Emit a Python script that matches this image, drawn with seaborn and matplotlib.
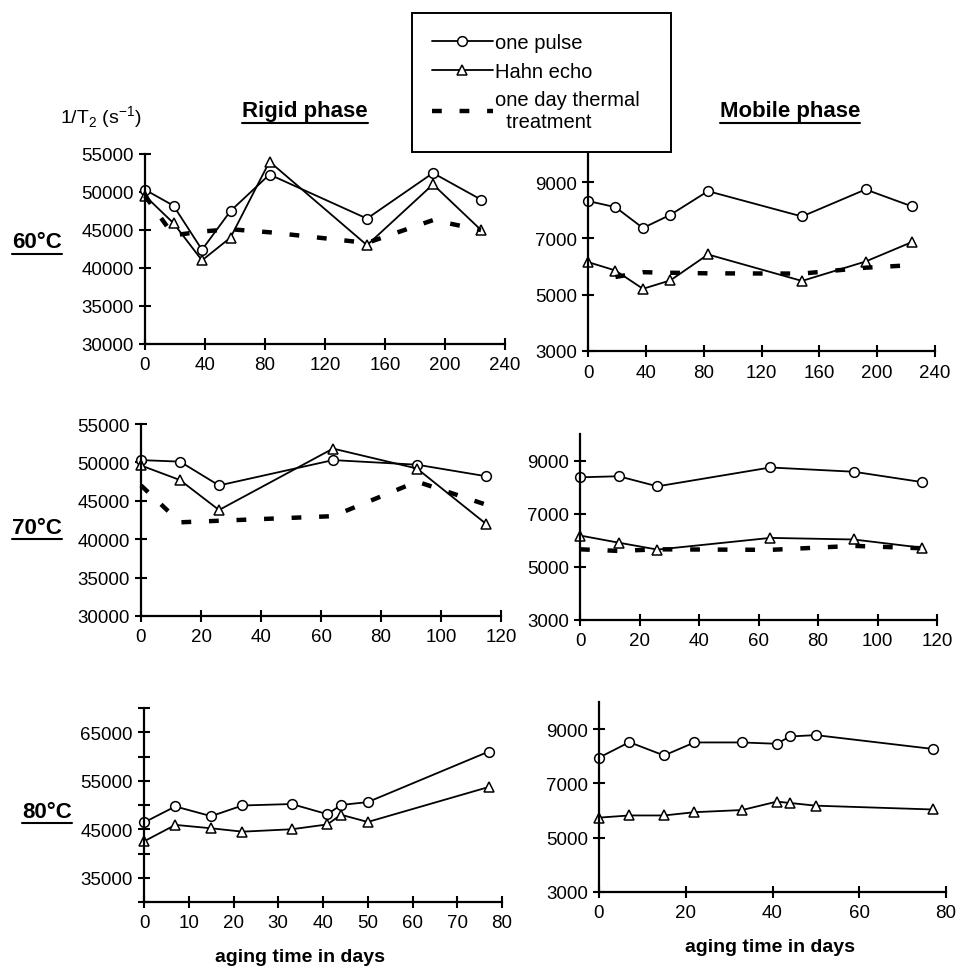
import matplotlib
matplotlib.use("Agg")
import matplotlib.pyplot as plt
from matplotlib.lines import Line2D
import seaborn as sns

# ---------------- data: 1/T2 (s^-1) versus aging time (days) ----------------
days_60 = [0, 19, 38, 57, 83, 148, 192, 224]
rigid_60_pulse = [50300, 48200, 42400, 47500, 52300, 46500, 52500, 49000]
rigid_60_hahn = [49500, 45900, 41000, 44000, 54000, 43000, 51000, 45000]
rigid_60_thermal = [49500, 44300, 44800, 45100, 44700, 43300, 46300, 45000]
mobile_60_pulse = [8330, 8110, 7370, 7840, 8680, 7780, 8740, 8140]
mobile_60_hahn = [6160, 5860, 5210, 5510, 6430, 5490, 6180, 6870]
days_60_thermal_mobile = [19, 38, 57, 83, 148, 192, 224]
mobile_60_thermal = [5630, 5800, 5780, 5760, 5750, 5960, 6050]

days_70 = [0, 13, 26, 64, 92, 115]
rigid_70_pulse = [50300, 50100, 47000, 50300, 49700, 48200]
rigid_70_hahn = [49600, 47700, 43800, 51800, 49200, 42000]
rigid_70_thermal = [47000, 42200, 42400, 43000, 47500, 44500]
mobile_70_pulse = [8370, 8410, 8030, 8740, 8580, 8190]
mobile_70_hahn = [6180, 5910, 5650, 6090, 6030, 5720]
mobile_70_thermal = [5660, 5600, 5660, 5640, 5790, 5700]

days_80 = [0, 7, 15, 22, 33, 41, 44, 50, 77]
rigid_80_pulse = [46400, 49700, 47700, 49900, 50200, 48100, 50000, 50600, 61000]
rigid_80_hahn = [42500, 45900, 45200, 44500, 45000, 46000, 48000, 46500, 53700]
mobile_80_pulse = [7950, 8520, 8030, 8510, 8510, 8460, 8730, 8780, 8270]
mobile_80_hahn = [5740, 5820, 5820, 5940, 6020, 6330, 6280, 6180, 6040]

series_labels = ["one pulse", "Hahn echo", "one day thermal\n  treatment"]
row_labels = ["60°C", "70°C", "80°C"]

# ---------------- style ----------------
sns.set_style("ticks")
plt.rcParams["font.family"] = ["Liberation Sans", "DejaVu Sans"]
plt.rcParams["mathtext.fontset"] = "custom"
plt.rcParams["mathtext.rm"] = "Liberation Sans"
for key in ("text.color", "axes.labelcolor", "xtick.color", "ytick.color",
            "axes.edgecolor"):
    plt.rcParams[key] = "black"

W, H = 956, 978
fig = plt.figure(figsize=(W / 100, H / 100), dpi=100)
fig.patch.set_facecolor("white")


def add_ax(left, top, right, bottom):
    return fig.add_axes([left / W, 1 - bottom / H, (right - left) / W, (bottom - top) / H])


line_kw = dict(color="k", linewidth=1.3, clip_on=False, markersize=7,
               markerfacecolor="white", markeredgecolor="k", markeredgewidth=1.1)
dash_kw = dict(color="k", linewidth=3.2, clip_on=False,
               linestyle=(0, (2.2, 4.0)), dash_capstyle="butt")


def draw(ax, days, pulse, hahn, t_days=None, thermal=None):
    sns.lineplot(x=days, y=pulse, ax=ax, marker="o", label=series_labels[0], **line_kw)
    sns.lineplot(x=days, y=hahn, ax=ax, marker="^", label=series_labels[1], **line_kw)
    if thermal is not None:
        sns.lineplot(x=t_days, y=thermal, ax=ax, label=series_labels[2], **dash_kw)
    if ax.get_legend() is not None:
        ax.get_legend().remove()


def style(ax, xmax, xstep, ymin, ymax, ystep, ylabels):
    ax.set_xlim(0, xmax)
    ax.set_ylim(ymin, ymax)
    ax.set_xticks(list(range(0, xmax + 1, xstep)))
    yt = list(range(ymin, ymax + 1, ystep))
    ax.set_yticks(yt)
    ax.set_yticklabels([str(v) if v in ylabels else "" for v in yt])
    sns.despine(ax=ax)
    for s in ("left", "bottom"):
        ax.spines[s].set_linewidth(1.6)
        ax.spines[s].set_color("black")
    ax.tick_params(direction="inout", length=8, width=1.5, labelsize=13.5,
                   pad=4, colors="black")
    ax.tick_params(axis="x", pad=5)
    ax.set_xlabel("")
    ax.set_ylabel("")
    ax.set_facecolor("white")


rigid_ticks_a = list(range(30000, 55001, 5000))
mobile_ticks = [3000, 5000, 7000, 9000]

# row 1: 60 °C
ax1 = add_ax(145, 155, 505, 345)
draw(ax1, days_60, rigid_60_pulse, rigid_60_hahn, days_60, rigid_60_thermal)
style(ax1, 240, 40, 30000, 55000, 5000, rigid_ticks_a)

ax2 = add_ax(588, 155, 935, 352)
draw(ax2, days_60, mobile_60_pulse, mobile_60_hahn, days_60_thermal_mobile, mobile_60_thermal)
style(ax2, 240, 40, 3000, 10000, 2000, mobile_ticks)
ax2.set_yticks(mobile_ticks)
ax2.set_yticklabels([str(v) for v in mobile_ticks])

# row 2: 70 °C
ax3 = add_ax(141, 425, 501, 617)
draw(ax3, days_70, rigid_70_pulse, rigid_70_hahn, days_70, rigid_70_thermal)
style(ax3, 120, 20, 30000, 55000, 5000, rigid_ticks_a)

ax4 = add_ax(580, 435, 937, 621)
draw(ax4, days_70, mobile_70_pulse, mobile_70_hahn, days_70, mobile_70_thermal)
style(ax4, 120, 20, 3000, 10000, 2000, mobile_ticks)
ax4.set_yticks(mobile_ticks)
ax4.set_yticklabels([str(v) for v in mobile_ticks])

# row 3: 80 °C
ax5 = add_ax(144, 709, 502, 903)
draw(ax5, days_80, rigid_80_pulse, rigid_80_hahn)
style(ax5, 80, 10, 30000, 70000, 5000, [35000, 45000, 55000, 65000])

ax6 = add_ax(599, 703, 946, 893)
draw(ax6, days_80, mobile_80_pulse, mobile_80_hahn)
style(ax6, 80, 20, 3000, 10000, 2000, mobile_ticks)
ax6.set_yticks(mobile_ticks)
ax6.set_yticklabels([str(v) for v in mobile_ticks])

# ---------------- legend ----------------
handles = ax1.get_lines()[:3]
leg = fig.legend(handles, series_labels, loc="upper left",
                 bbox_to_anchor=(412 / W, 1 - 14 / H, 259 / W, 0), mode="expand",
                 frameon=True, fancybox=False, edgecolor="k", fontsize=14.5,
                 handlelength=3.0, handletextpad=0.1, borderpad=1.0,
                 labelspacing=0.48, borderaxespad=0)
leg.get_frame().set_linewidth(1.4)
leg.get_frame().set_alpha(1)

# ---------------- texts ----------------
def ftext(x, y, s, **kw):
    return fig.text(x / W, 1 - y / H, s, **kw)


underlined = []
underlined.append(ftext(305, 112, "Rigid phase", fontsize=16, fontweight="bold",
                        ha="center", va="center"))
underlined.append(ftext(790, 112, "Mobile phase", fontsize=16, fontweight="bold",
                        ha="center", va="center"))
for lbl, y in zip(row_labels, [243, 528, 812]):
    underlined.append(ftext(62 if lbl != "80°C" else 72, y, lbl, fontsize=16,
                            fontweight="bold", ha="right", va="center"))

ftext(60, 118, r"1/T$_\mathregular{2}$ (s$^\mathregular{-1}$)", fontsize=14,
      ha="left", va="center")
ftext(300, 958, "aging time in days", fontsize=14, fontweight="bold",
      ha="center", va="center")
ftext(770, 948, "aging time in days", fontsize=14, fontweight="bold",
      ha="center", va="center")

fig.canvas.draw()
renderer = fig.canvas.get_renderer()
for t in underlined:
    bb = t.get_window_extent(renderer)
    yline = (bb.y0 - 1) / H
    fig.add_artist(Line2D([bb.x0 / W, bb.x1 / W], [yline, yline],
                          color="k", linewidth=1.5))

fig.savefig("out.png", dpi=100, facecolor="white")
